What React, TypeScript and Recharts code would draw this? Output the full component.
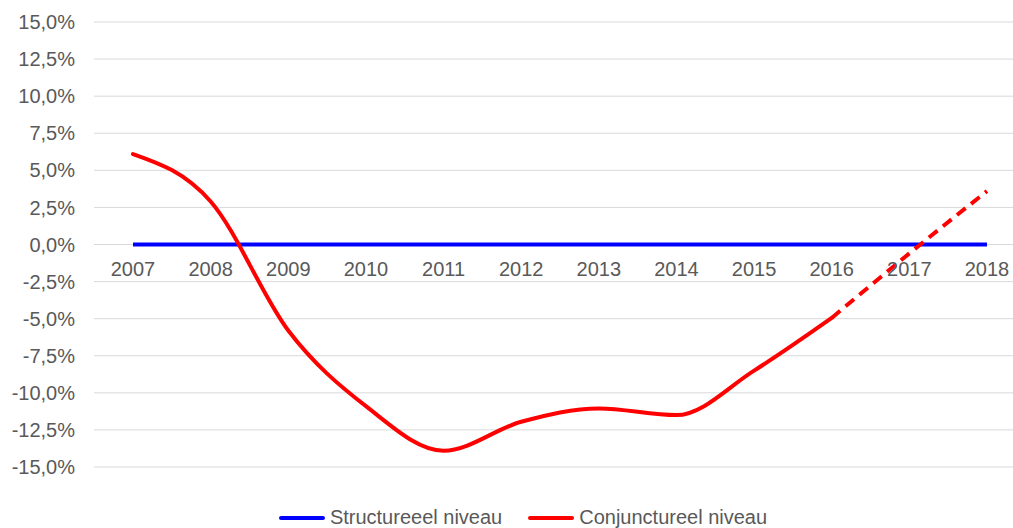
import React from 'react';
import {
  LineChart,
  Line,
  XAxis,
  YAxis,
  CartesianGrid,
  Legend,
  LabelList,
} from 'recharts';

const years = ['2007', '2008', '2009', '2010', '2011', '2012', '2013', '2014', '2015', '2016', '2017', '2018'];
const structureel = [0, 0, 0, 0, 0, 0, 0, 0, 0, 0, 0, 0];
const conjunctureel = [6.1, 2.9, -5.8, -10.9, -13.9, -11.95, -11.05, -11.5, -8.5, -4.95, null, null];
const conjunctureelProjectie = [null, null, null, null, null, null, null, null, null, -4.95, -0.6, 3.6];
const yTicks = [15, 12.5, 10, 7.5, 5, 2.5, 0, -2.5, -5, -7.5, -10, -12.5, -15];

const data = years.map((year, i) => ({
  year,
  structureel: structureel[i],
  conjunctureel: conjunctureel[i],
  projectie: conjunctureelProjectie[i],
}));

const FONT = '"Liberation Sans", Arial, sans-serif';
const TEXT = '#595959';

const fmtPct = (v: number) => v.toFixed(1).replace('.', ',') + '%';

const legendItems = [
  { label: 'Structureeel niveau', color: '#0000FF' },
  { label: 'Conjunctureel niveau', color: '#FF0000' },
];

function ChartLegend() {
  return (
    <div style={{ display: 'flex', justifyContent: 'center', gap: 26, fontFamily: FONT, fontSize: 20, color: TEXT }}>
      {legendItems.map((item) => (
        <div key={item.label} style={{ display: 'flex', alignItems: 'center' }}>
          <svg width={46} height={10} style={{ marginRight: 5 }}>
            <line x1={2} y1={5} x2={44} y2={5} stroke={item.color} strokeWidth={4} strokeLinecap="round" />
          </svg>
          <span>{item.label}</span>
        </div>
      ))}
    </div>
  );
}

export default function App() {
  return (
    <div
      style={{
        position: 'fixed',
        top: 0,
        left: 0,
        width: 1013,
        height: 528,
        overflow: 'hidden',
        background: '#fff',
      }}
    >
      <div style={{ position: 'absolute', top: 8, left: 8 }}>
        <LineChart
          width={1030}
          height={520}
          data={data}
          margin={{ top: 14, right: 12, bottom: 31, left: 0 }}
        >
          <CartesianGrid horizontal vertical={false} stroke="#d9d9d9" strokeWidth={1} />
          <XAxis dataKey="year" hide padding={{ left: 39, right: 39 }} />
          <YAxis
            width={86}
            domain={[-15, 15]}
            ticks={yTicks}
            interval={0}
            tickFormatter={fmtPct}
            axisLine={false}
            tickLine={false}
            tickSize={0}
            tickMargin={19}
            tick={{ fill: TEXT, fontSize: 20, fontFamily: FONT }}
          />
          <Legend
            content={<ChartLegend />}
            wrapperStyle={{ top: 498, left: 10, width: 1030 - 20, height: 30 }}
          />
          <Line
            type="monotone"
            dataKey="structureel"
            stroke="#0000FF"
            strokeWidth={4}
            dot={false}
            isAnimationActive={false}
          >
            <LabelList
              dataKey="year"
              position="bottom"
              offset={17}
              fill={TEXT}
              fontSize={20}
              fontFamily={FONT}
            />
          </Line>
          <Line
            type="monotone"
            dataKey="conjunctureel"
            stroke="#FF0000"
            strokeWidth={4}
            strokeLinecap="round"
            dot={false}
            isAnimationActive={false}
          />
          <Line
            type="monotone"
            dataKey="projectie"
            stroke="#FF0000"
            strokeWidth={4}
            strokeDasharray="11 7"
            dot={false}
            legendType="none"
            isAnimationActive={false}
          />
        </LineChart>
      </div>
    </div>
  );
}
